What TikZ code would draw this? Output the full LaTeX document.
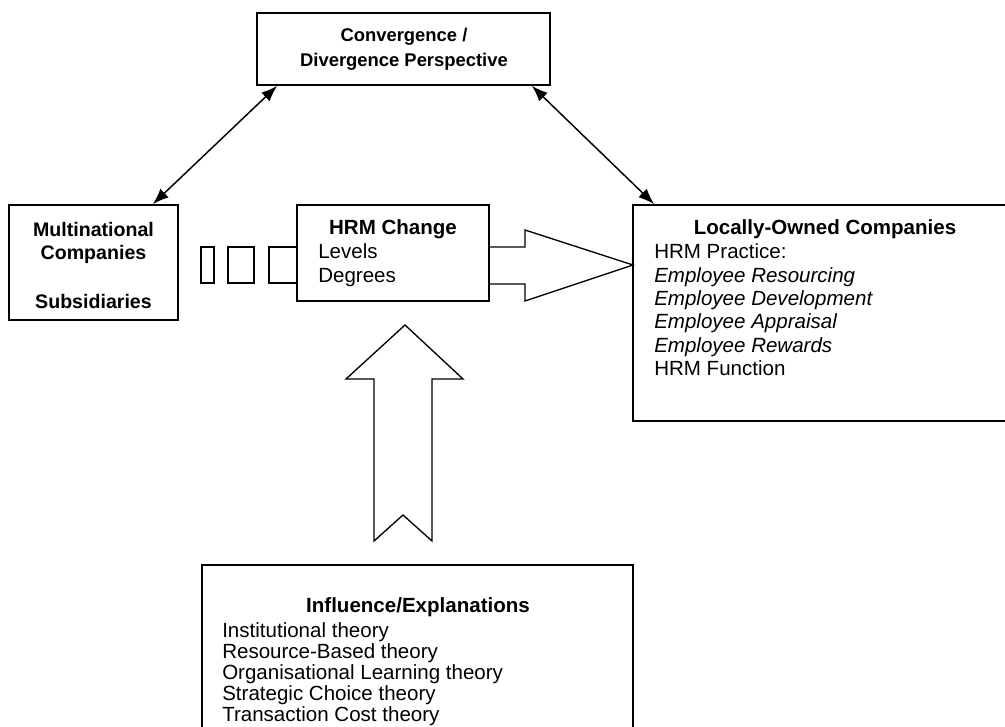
\documentclass[tikz,border=0pt]{standalone}
\usepackage{fontspec}
\setmainfont{Liberation Sans}
\usetikzlibrary{arrows.meta,fit,positioning}

\tikzset{
	box/.style={draw, line width=1.3pt, inner sep=0pt},
	head/.style={font=\bfseries\fontsize{15.4}{17.5}\selectfont, inner sep=0pt},
	item/.style={font=\fontsize{15.4}{17.5}\selectfont, inner sep=0pt, anchor=west, text height=12.5pt, text depth=3.5pt},
	fat/.style={draw, line width=1pt, line join=miter},
}

\begin{document}
\begin{tikzpicture}[x=0.75pt, y=-0.75pt, >={Latex[length=12pt,width=9pt]}]
		\useasboundingbox (0,0) rectangle (1005,727);
		\clip (0,0) rectangle (1005,727);

		\node[box, fit={(257,13) (550,85)}] (persp) {};
		\node[align=center, inner sep=0pt, font=\bfseries\fontsize{13.8}{18.5}\selectfont] (persptext) at (404,49.5) {Convergence /\\Divergence Perspective};
		\node[box, fit={(9,205) (178,320)}] (mnc) {};
		\node[align=center, inner sep=0pt, font=\bfseries\fontsize{14.7}{17.25}\selectfont] (mnctext) at (93.5,265.5) {Multinational\\Companies\\[20pt]Subsidiaries};

		% HRM change and the small boxes in front of it
		\node[box, fit={(297,205) (489,301)}] (hrm) {};
		\node[head] (hrmhead) at (393,229) {HRM Change};
		\foreach \t [count=\i] in {Levels, Degrees}
			\node[item] (hrm\i) at (318,229+23.5*\i) {\t};
		\draw[line width=1pt] (201,247) rectangle (214,283);
		\draw[line width=1pt] (228,247) rectangle (254,283);
		\draw[line width=1pt] (297,247) -- (269,247) -- (269,283) -- (297,283);

		\node[box, fit={(633,205) (1030,421)}] (local) {};
		\node[head] (localhead) at (825,229) {Locally-Owned Companies};
		\foreach \t [count=\i] in {HRM Practice:, \textit{Employee Resourcing}, \textit{Employee Development}, \textit{Employee Appraisal}, \textit{Employee Rewards}, HRM Function}
			\node[item] (local\i) at (654,229.5+23.3*\i) {\t};

		\node[box, fit={(202,565) (633,760)}] (infl) {};
		\node[head] (inflhead) at (418,607) {Influence/Explanations};
		\foreach \t [count=\i] in {Institutional theory, Resource-Based theory, Organisational Learning theory, Strategic Choice theory, Transaction Cost theory}
			\node[item] (infl\i) at (222,609.8+21.2*\i) {\t};

		% block arrows
		\draw[fat] (489,247) -- (525,247) -- (525,230) -- (633,265) -- (525,301) -- (525,284) -- (489,284);
		\draw[fat] (374,541) -- (374,379) -- (346,379) -- (405,325) -- (463,379) -- (432,379) -- (432,541) -- (403,515) -- cycle;

		\draw[<->, line width=1.1pt] ([xshift=15.75pt]persp.south west) -- ([xshift=-19.5pt]mnc.north east);
		\draw[<->, line width=1.1pt] ([xshift=-14.25pt]persp.south east) -- ([xshift=16.5pt]local.north west);
\end{tikzpicture}
\end{document}
